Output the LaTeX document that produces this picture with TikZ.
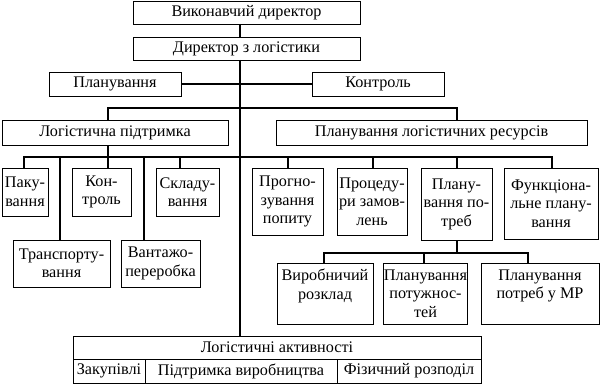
\documentclass[tikz,border=0pt]{standalone}
\usepackage{fontspec}
\setmainfont{Liberation Serif}
\newcommand\mybox[6]{\node[bx,minimum width={#4-#2},minimum height={#5-#3}] (#1) at ({(#2+#4)/2},{(#3+#5)/2}) {#6};}
\begin{document}
\begin{tikzpicture}[x=1pt,y=-1pt,
  bx/.style={draw,line width=0.9pt,inner sep=0pt,outer sep=0pt,align=center,font=\fontsize{16.2}{18.5}\selectfont},
  ln/.style={line width=1.9pt},
  cln/.style={line width=2.5pt}]
\useasboundingbox (0,0) rectangle (601,385);
% top
\mybox{vd}{133}{1}{360}{24}{Виконавчий директор}
\mybox{dl}{133}{37}{360}{60}{Директор з логістики}
\mybox{plan}{49}{72}{181}{96}{Планування}
\mybox{kontr}{312}{72}{444}{96}{Контроль}
\mybox{lp}{2}{120}{228}{145}{Логістична підтримка}
\mybox{plr}{276}{120}{587}{145}{Планування логістичних ресурсів}
% left group
\mybox{pak}{2}{168}{48}{216}{Паку-\\вання}
\mybox{kon}{72}{168}{131}{216}{Кон-\\троль}
\mybox{skl}{156}{168}{219}{216}{Складу-\\вання}
\mybox{trans}{13}{240}{110}{287}{Транспорту-\\вання}
\mybox{vant}{121}{240}{200}{287}{Вантажо-\\переробка}
% right group
\mybox{prog}{252}{168}{323}{235}{Прогно-\\зування\\попиту}
\mybox{proc}{337}{168}{407}{235}{Процеду-\\ри замов-\\лень}
\mybox{plp}{421}{168}{492}{240}{Плану-\\вання по-\\треб}
\mybox{func}{504}{168}{598}{239}{Функціона-\\льне плану-\\вання}
\mybox{vyr}{277}{263}{373}{324}{Виробничий\\розклад\\\mbox{}}
\mybox{pot}{384}{263}{467}{324}{Планування\\потужнос-\\тей}
\mybox{mr}{481}{263}{599}{324}{Планування\\потреб у МР\\\mbox{}}
% bottom
\mybox{la}{73}{336}{481}{359}{Логістичні активності}
\mybox{zak}{73}{359}{145}{383}{Закупівлі}
\mybox{pvy}{145}{359}{337}{383}{Підтримка виробництва}
\mybox{fiz}{337}{359}{481}{383}{Фізичний розподіл}
% junction coordinates
\coordinate (c) at (240,0);
\coordinate (j1) at (108,108);
\coordinate (j2) at (457,108);
\coordinate (h1) at (24,157);
\coordinate (h2) at (552,157);
\coordinate (k1) at (324,253);
\coordinate (k2) at (528,253);
% connectors
\draw[cln] (vd.south -| c) -- (dl.north -| c);
\draw[cln] (dl.south -| c) -- (la.north -| c);
\draw[ln] (plan) -- (kontr);
\draw[ln] (lp.north -| j1) -- (j1) -- (j2) -- (plr.north -| j2);
\draw[ln] (pak.north -| h1) -- (h1) -- (h2) -- (func.north -| h2);
\draw[ln] (lp.south -| j1) -- (kon.north -| j1);
\draw[ln] (trans.north -| 60,0) -- (60,157);
\draw[ln] (vant.north -| 144,0) -- (144,157);
\draw[ln] (skl.north -| 180,0) -- (180,157);
\draw[ln] (prog.north -| 288,0) -- (288,157);
\draw[ln] (proc.north -| 373,0) -- (373,157);
\draw[ln] (plp.north -| 457,0) -- (457,157);
\draw[ln] (plp.south -| 457,0) -- (457,253);
\draw[ln] (vyr.north -| k1) -- (k1) -- (k2) -- (mr.north -| k2);
\draw[ln] (pot.north -| 424,0) -- (424,253);
\end{tikzpicture}
\end{document}
